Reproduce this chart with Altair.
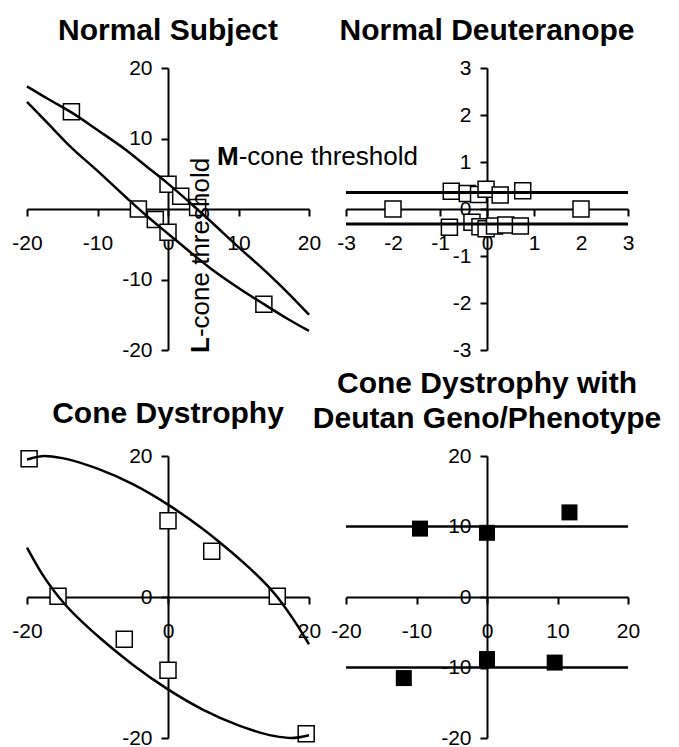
import altair as alt
import pandas as pd

FONT = "Liberation Sans, Arial, sans-serif"
W = 282
H = 282

# ---------------- data ----------------
titles = ["Normal Subject", "Normal Deuteranope", "Cone Dystrophy",
          "Cone Dystrophy with", "Deutan Geno/Phenotype"]

# Panel 1: Normal Subject
p1_xticks = [-20, -10, 0, 10, 20]
p1_yticks = [-20, -10, 10, 20]
p1_sq_x = [-13.7, 0.0, 1.8, 4.2, -4.2, -1.8, 0.0, 13.6]
p1_sq_y = [13.8, 3.5, 1.8, 0.2, 0.0, -1.5, -3.3, -13.5]
p1_up_x = [-20, -17, -13.7, -10, -6, -3, 0, 3, 6, 10, 14, 17, 20]
p1_up_y = [17.4, 15.6, 13.7, 11.2, 8.4, 6.0, 3.6, 1.0, -1.7, -5.4, -9.0, -11.9, -15.0]
p1_lo_x = [-20, -17, -14, -10, -6, -3, 0, 3, 6, 10, 13.6, 17, 20]
p1_lo_y = [15.2, 12.1, 9.0, 5.4, 1.7, -1.0, -3.5, -6.0, -8.4, -11.2, -13.5, -15.6, -17.3]

# Panel 2: Normal Deuteranope
p2_ticks = [-3, -2, -1, 0, 1, 2, 3]
p2_sq_x = [-0.76, -0.42, -0.18, -0.02, 0.28, 0.76, -2.0, 2.0,
           -0.80, -0.32, -0.15, -0.02, 0.16, 0.40, 0.71]
p2_sq_y = [0.38, 0.33, 0.31, 0.42, 0.30, 0.39, 0.0, 0.0,
           -0.39, -0.28, -0.38, -0.42, -0.36, -0.34, -0.36]
p2_lines_y = [0.35, -0.32]

# Panel 3: Cone Dystrophy
p3_ticks = [-20, 0, 20]
p3_sq_x = [-19.7, 0.0, 6.2, 15.5, -15.6, -6.2, 0.0, 19.6]
p3_sq_y = [19.6, 10.8, 6.5, 0.1, 0.1, -6.0, -10.4, -19.4]
p3_up_x = [-20, -17.5, -15, -10, -5, 0, 5, 7.4, 10, 15.5, 18, 20]
p3_up_y = [19.5, 20.0, 19.7, 18.2, 16.0, 13.1, 9.6, 7.7, 5.5, 0.0, -3.5, -6.7]
p3_lo_x = [-20, -18, -15.5, -10, -7.4, -5, 0, 5, 10, 15, 17.5, 20]
p3_lo_y = [7.0, 3.5, 0.0, -5.5, -7.7, -9.6, -13.1, -16.0, -18.2, -19.7, -20.0, -19.6]

# Panel 4: Cone Dystrophy with Deutan Geno/Phenotype
p4_ticks = [-20, -10, 0, 10, 20]
p4_sq_x = [-9.5, 0.0, 11.7, 0.0, 9.6, -11.8]
p4_sq_y = [9.7, 9.1, 12.0, -8.8, -9.3, -11.5]
p4_lines_y = [10, -10]


# ---------------- helpers ----------------
def axis_common():
    return dict(title=None, grid=False, domainColor="black", domainWidth=2,
                tickColor="black", tickWidth=2, tickSize=7,
                labelColor="black", labelFont=FONT, labelFontSize=21,
                labelFlush=False, labelOverlap=False,
                labelExpr="'' + datum.value")


def encodings(dom, xt, yt):
    X = alt.X("x:Q", scale=alt.Scale(domain=dom, nice=False, zero=False),
              axis=alt.Axis(values=xt, orient="bottom", offset=-H / 2,
                            labelPadding=27, labelBaseline="middle", **axis_common()))
    Y = alt.Y("y:Q", scale=alt.Scale(domain=dom, nice=False, zero=False),
              axis=alt.Axis(values=yt, orient="left", offset=-W / 2,
                            labelPadding=9, **axis_common()))
    return X, Y


def text_mark(txt, x, y, size, bold=False, angle=0, align="center"):
    kw = dict(font=FONT, fontSize=size, fontWeight="bold" if bold else "normal",
              align=align, baseline="alphabetic", color="black")
    if angle:
        kw["angle"] = angle
    return alt.Chart(pd.DataFrame({"t": [txt]})).mark_text(**kw).encode(
        x=alt.value(x), y=alt.value(y), text="t:N")


def squares(xs, ys, X, Y, filled_black=False):
    df = pd.DataFrame({"x": xs, "y": ys})
    if filled_black:
        m = alt.Chart(df).mark_square(size=256, color="black", opacity=1)
    else:
        m = alt.Chart(df).mark_square(size=256, fill="white", stroke="black",
                                      strokeWidth=1.5, opacity=1)
    return m.encode(x=X, y=Y)


def curves(c1x, c1y, c2x, c2y, X, Y):
    df = pd.DataFrame({"x": c1x + c2x, "y": c1y + c2y,
                       "c": ["a"] * len(c1x) + ["b"] * len(c2x)})
    return alt.Chart(df).mark_line(color="black", strokeWidth=2.5,
                                   interpolate="monotone").encode(
        x=X, y=Y, detail="c:N")


def hlines(ys, Y, width):
    return alt.Chart(pd.DataFrame({"y": ys})).mark_rule(
        color="black", strokeWidth=width).encode(y=Y)


# ---------------- panel 1 ----------------
X1, Y1 = encodings([-20, 20], p1_xticks, p1_yticks)
frame = alt.Chart(pd.DataFrame({"t": [0]})).mark_rect(opacity=0).encode(
    x=alt.value(-27), x2=alt.value(652), y=alt.value(-68), y2=alt.value(679))
p1 = alt.layer(
    frame,
    squares(p1_sq_x, p1_sq_y, X1, Y1),
    curves(p1_up_x, p1_up_y, p1_lo_x, p1_lo_y, X1, Y1),
    text_mark(titles[0], W / 2, -28, 30, bold=True),
    text_mark("M", 190, 97, 26, bold=True, align="left"),
    text_mark("-cone threshold", 211.7, 97, 26, align="left"),
    text_mark("L", 182, 285, 26, bold=True, angle=270, align="left"),
    text_mark("-cone threshold", 182, 269.1, 26, angle=270, align="left"),
).properties(width=W, height=H)

# ---------------- panel 2 ----------------
X2, Y2 = encodings([-3, 3], p2_ticks, p2_ticks)
p2 = alt.layer(
    squares(p2_sq_x, p2_sq_y, X2, Y2),
    hlines(p2_lines_y, Y2, 3),
    text_mark(titles[1], W / 2, -28, 30, bold=True),
).properties(width=W, height=H)

# ---------------- panel 3 ----------------
X3, Y3 = encodings([-20, 20], p3_ticks, p3_ticks)
p3 = alt.layer(
    squares(p3_sq_x, p3_sq_y, X3, Y3),
    curves(p3_up_x, p3_up_y, p3_lo_x, p3_lo_y, X3, Y3),
    text_mark(titles[2], W / 2, -33, 30, bold=True),
).properties(width=W, height=H)

# ---------------- panel 4 ----------------
X4, Y4 = encodings([-20, 20], p4_ticks, p4_ticks)
p4 = alt.layer(
    hlines(p4_lines_y, Y4, 2.5),
    squares(p4_sq_x, p4_sq_y, X4, Y4, filled_black=True),
    text_mark(titles[3], W / 2, -63, 30, bold=True),
    text_mark(titles[4], W / 2, -28, 30, bold=True),
).properties(width=W, height=H)

chart = alt.concat(
    p1, p2, p3, p4, columns=2,
    spacing=alt.RowColnumber(row=106, column=37), bounds="flush"
).properties(padding=0, background="white").configure_view(stroke=None)

chart.save("out.html", embed_options={"renderer": "svg", "actions": False})
